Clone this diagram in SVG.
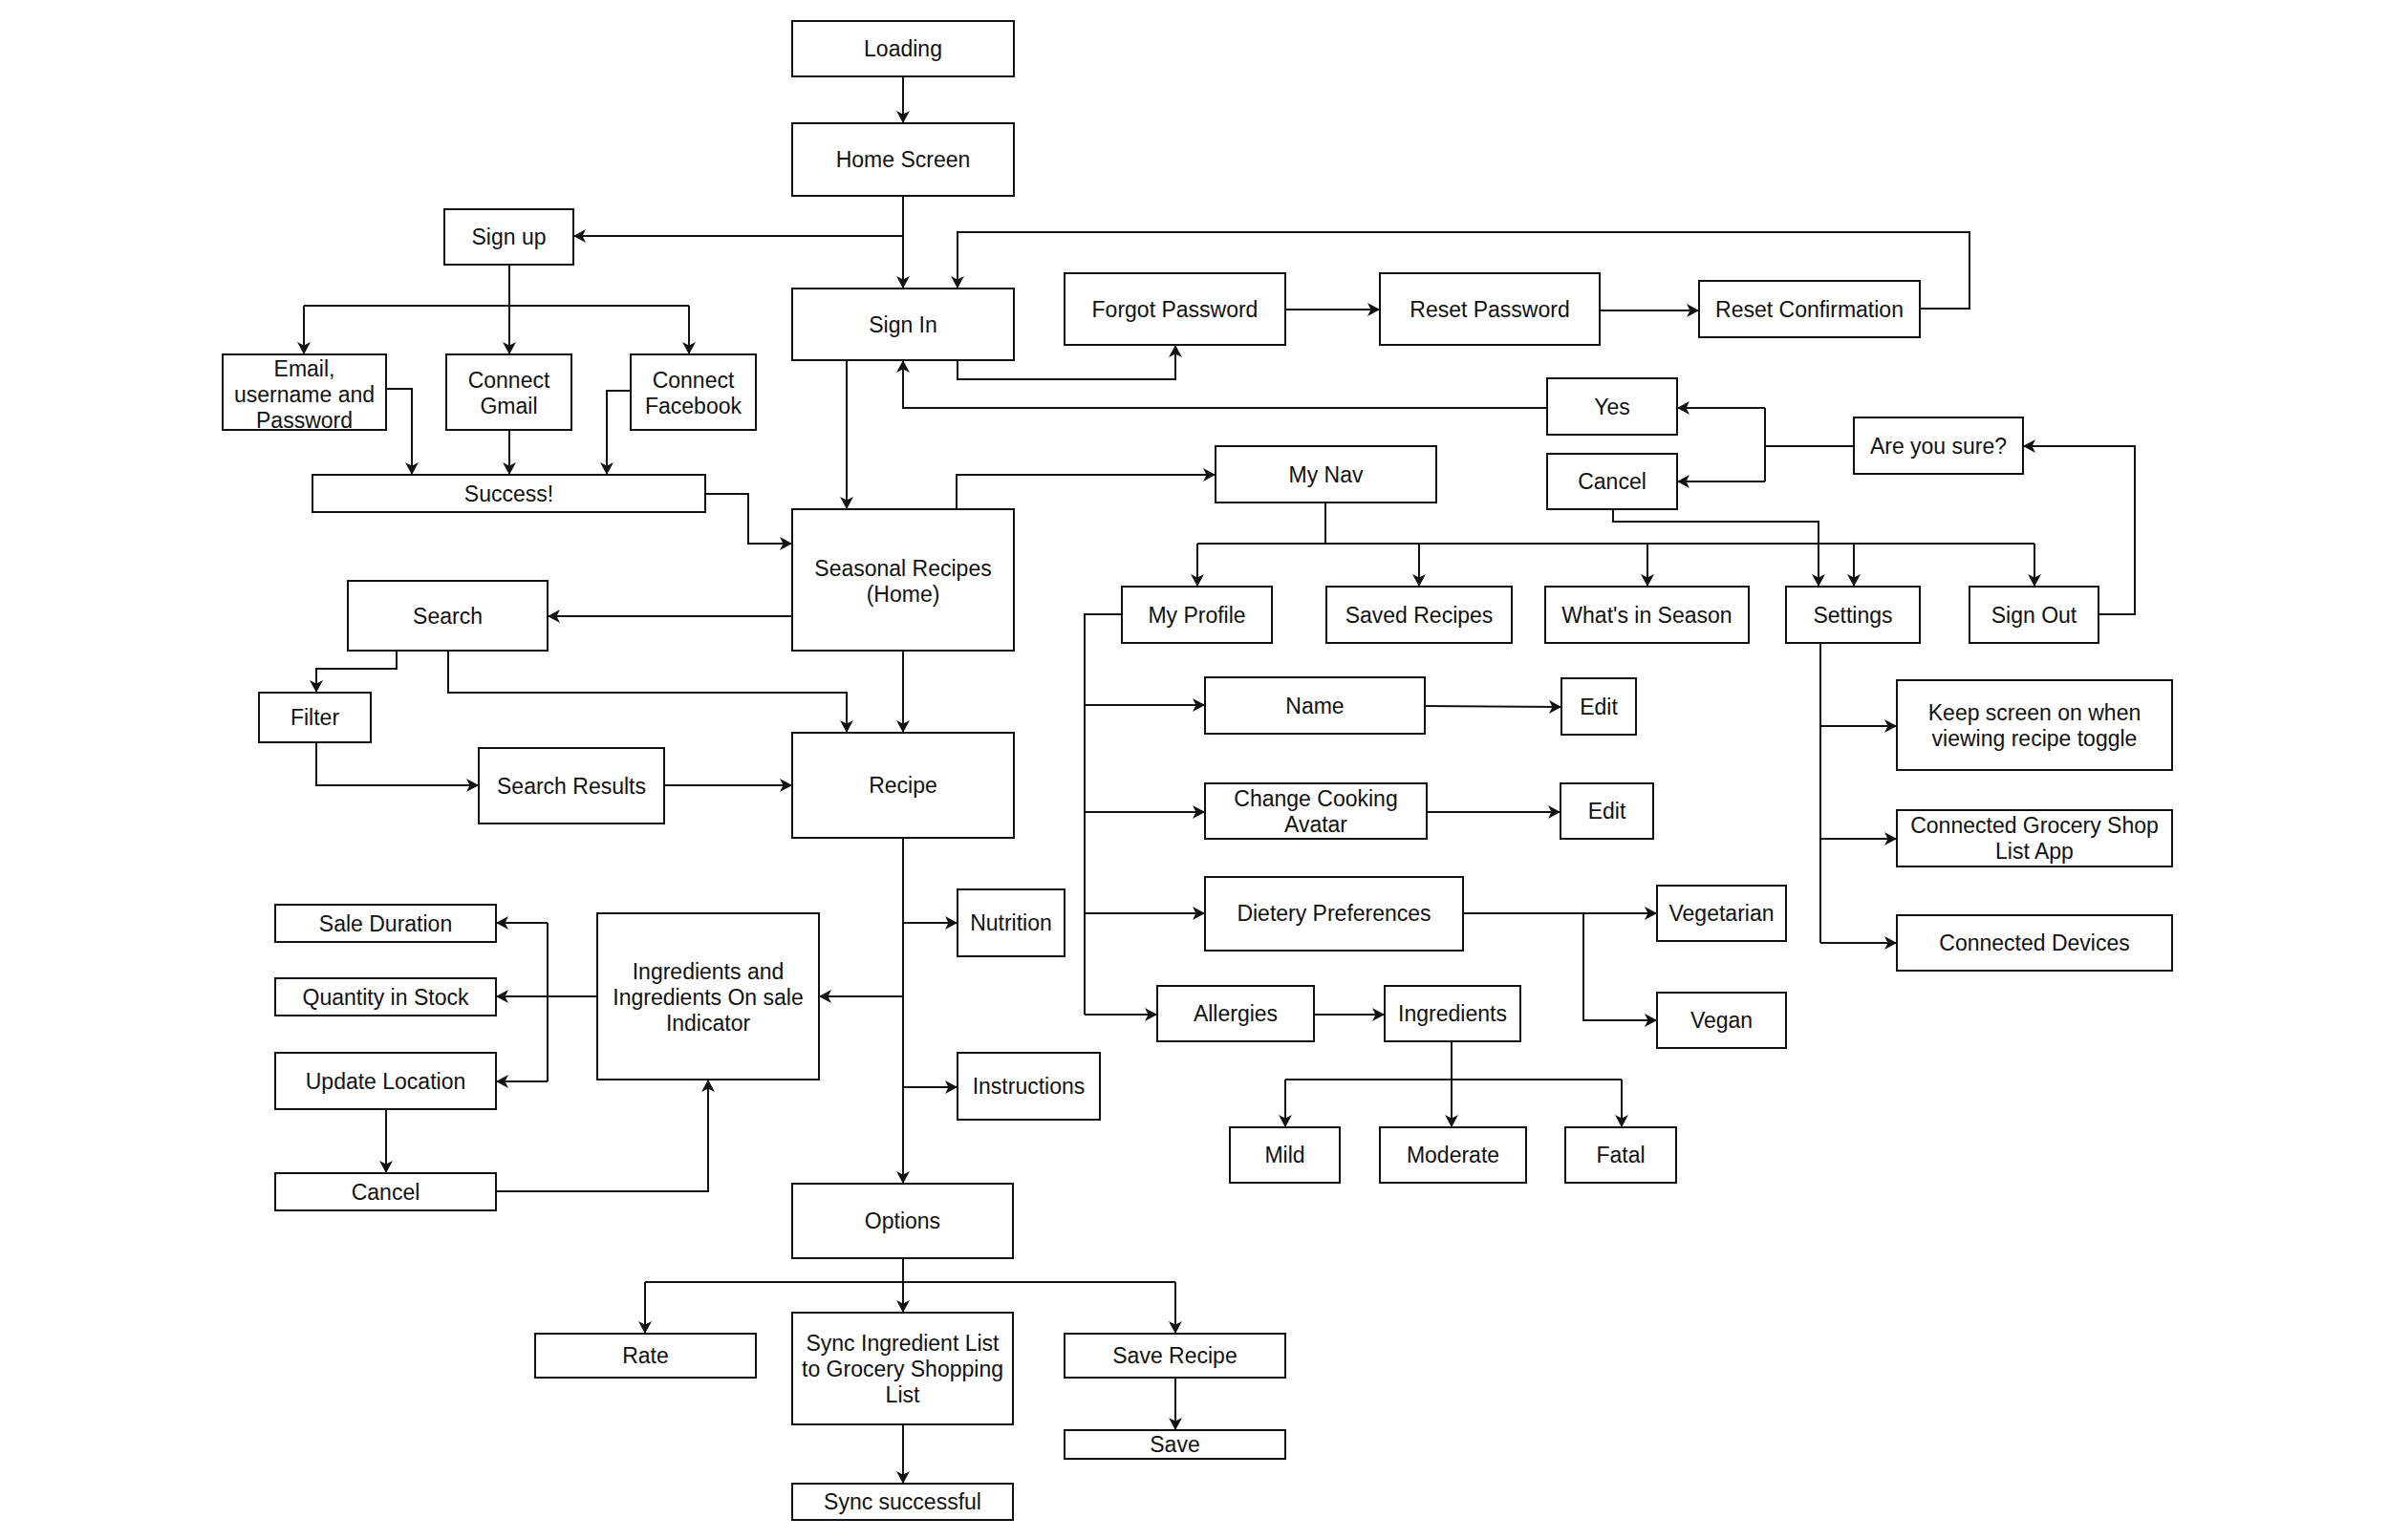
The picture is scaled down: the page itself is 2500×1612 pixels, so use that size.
<svg xmlns="http://www.w3.org/2000/svg" width="2500" height="1612" viewBox="0 0 2500 1612">
<defs>
<marker id="arr" markerUnits="userSpaceOnUse" markerWidth="14" markerHeight="14" refX="13" refY="7" orient="auto">
<path d="M0,0 L13,7 L0,14 L3.5,7 z" fill="#111"/>
</marker>
<style>
.n rect{fill:#fff;stroke:#111;stroke-width:2}
.n text{font-family:"Liberation Sans",Arial,Helvetica,sans-serif;font-size:23px;fill:#111;text-anchor:middle}
#connectors path{fill:none;stroke:#111;stroke-width:2}
#connectors path.a{marker-end:url(#arr)}
</style>
</defs>
<rect width="2500" height="1612" fill="#fff"/>
<g id="connectors">
<path class="a" d="M945,80 V129"/>
<path class="a" d="M945,205 V302"/>
<path class="a" d="M945,247 H600"/>
<path class="a" d="M533,277 V371"/>
<path d="M318,320 H721"/>
<path class="a" d="M318,320 V371"/>
<path class="a" d="M721,320 V371"/>
<path class="a" d="M404,407 H431 V497"/>
<path class="a" d="M533,450 V497"/>
<path class="a" d="M660,409 H635 V497"/>
<path class="a" d="M738,517 H783 V569 H829"/>
<path class="a" d="M886,377 V533"/>
<path class="a" d="M1002,377 V397 H1230 V361"/>
<path class="a" d="M1345,324 H1444"/>
<path class="a" d="M1674,325 H1778"/>
<path class="a" d="M2009,323 H2061 V243 H1002 V302"/>
<path class="a" d="M1619,427 H945 V377"/>
<path d="M1940,467 H1847 M1847,427 V504"/>
<path class="a" d="M1847,427 H1755"/>
<path class="a" d="M1847,504 H1755"/>
<path class="a" d="M2196,643 H2234 V467 H2117"/>
<path class="a" d="M1001,533 V497 H1272"/>
<path d="M1387,526 V569 M1253,569 H2129"/>
<path class="a" d="M1253,569 V614"/>
<path class="a" d="M1485,569 V614"/>
<path class="a" d="M1724,569 V614"/>
<path class="a" d="M1940,569 V614"/>
<path class="a" d="M2129,569 V614"/>
<path class="a" d="M1688,533 V546 H1903 V614"/>
<path class="a" d="M829,645 H573"/>
<path class="a" d="M415,681 V700 H331 V725"/>
<path class="a" d="M469,681 V725 H886 V767"/>
<path class="a" d="M945,681 V767"/>
<path class="a" d="M331,777 V822 H501"/>
<path class="a" d="M695,822 H829"/>
<path class="a" d="M945,877 V1239"/>
<path class="a" d="M945,966 H1002"/>
<path class="a" d="M945,1043 H857"/>
<path class="a" d="M945,1138 H1002"/>
<path class="a" d="M625,1043 H519"/>
<path d="M573,966 V1132"/>
<path class="a" d="M573,966 H519"/>
<path class="a" d="M573,1132 H519"/>
<path class="a" d="M404,1161 V1228"/>
<path class="a" d="M519,1247 H741 V1130"/>
<path class="a" d="M945,1317 V1374"/>
<path d="M675,1342 H1230"/>
<path class="a" d="M675,1342 V1396"/>
<path class="a" d="M1230,1342 V1396"/>
<path class="a" d="M945,1491 V1553"/>
<path class="a" d="M1230,1442 V1497"/>
<path d="M1174,643 H1135 V1062"/>
<path class="a" d="M1135,738 H1261"/>
<path class="a" d="M1135,850 H1261"/>
<path class="a" d="M1135,956 H1261"/>
<path class="a" d="M1135,1062 H1211"/>
<path class="a" d="M1491,739 L1634,740"/>
<path class="a" d="M1493,850 H1633"/>
<path class="a" d="M1531,956 H1734"/>
<path class="a" d="M1657,956 V1068 H1734"/>
<path class="a" d="M1375,1062 H1449"/>
<path class="a" d="M1519,1090 V1180"/>
<path d="M1345,1130 H1697"/>
<path class="a" d="M1345,1130 V1180"/>
<path class="a" d="M1697,1130 V1180"/>
<path d="M1905,673 V987"/>
<path class="a" d="M1905,760 H1985"/>
<path class="a" d="M1905,878 H1985"/>
<path class="a" d="M1905,987 H1985"/>
</g>
<g id="loading" class="n"><rect x="829" y="22" width="232" height="58"/><text x="945" y="59">Loading</text></g>
<g id="home" class="n"><rect x="829" y="129" width="232" height="76"/><text x="945" y="175">Home Screen</text></g>
<g id="signup" class="n"><rect x="465" y="219" width="135" height="58"/><text x="532.5" y="256">Sign up</text></g>
<g id="signin" class="n"><rect x="829" y="302" width="232" height="75"/><text x="945" y="348">Sign In</text></g>
<g id="forgot" class="n"><rect x="1114" y="286" width="231" height="75"/><text x="1229.5" y="332">Forgot Password</text></g>
<g id="reset" class="n"><rect x="1444" y="286" width="230" height="75"/><text x="1559" y="332">Reset Password</text></g>
<g id="resetconf" class="n"><rect x="1778" y="294" width="231" height="59"/><text x="1893.5" y="332">Reset Confirmation</text></g>
<g id="email" class="n"><rect x="233" y="371" width="171" height="79"/><text x="318.5" y="394"><tspan x="318.5">Email,</tspan><tspan x="318.5" dy="27">username  and</tspan><tspan x="318.5" dy="27">Password</tspan></text></g>
<g id="gmail" class="n"><rect x="467" y="371" width="131" height="79"/><text x="532.5" y="406"><tspan x="532.5">Connect</tspan><tspan x="532.5" dy="27">Gmail</tspan></text></g>
<g id="facebook" class="n"><rect x="660" y="371" width="131" height="79"/><text x="725.5" y="406"><tspan x="725.5">Connect</tspan><tspan x="725.5" dy="27">Facebook</tspan></text></g>
<g id="success" class="n"><rect x="327" y="497" width="411" height="39"/><text x="532.5" y="525">Success!</text></g>
<g id="yes" class="n"><rect x="1619" y="396" width="136" height="59"/><text x="1687" y="434">Yes</text></g>
<g id="cancel1" class="n"><rect x="1619" y="475" width="136" height="58"/><text x="1687" y="512">Cancel</text></g>
<g id="sure" class="n"><rect x="1940" y="437" width="177" height="59"/><text x="2028.5" y="475">Are you sure?</text></g>
<g id="mynav" class="n"><rect x="1272" y="467" width="231" height="59"/><text x="1387.5" y="505">My Nav</text></g>
<g id="seasonal" class="n"><rect x="829" y="533" width="232" height="148"/><text x="945" y="603"><tspan x="945">Seasonal Recipes</tspan><tspan x="945" dy="27">(Home)</tspan></text></g>
<g id="profile" class="n"><rect x="1174" y="614" width="157" height="59"/><text x="1252.5" y="652">My Profile</text></g>
<g id="saved" class="n"><rect x="1388" y="614" width="194" height="59"/><text x="1485" y="652">Saved Recipes</text></g>
<g id="season" class="n"><rect x="1617" y="614" width="213" height="59"/><text x="1723.5" y="652">What's in Season</text></g>
<g id="settings" class="n"><rect x="1869" y="614" width="140" height="59"/><text x="1939" y="652">Settings</text></g>
<g id="signout" class="n"><rect x="2061" y="614" width="135" height="59"/><text x="2128.5" y="652">Sign Out</text></g>
<g id="search" class="n"><rect x="364" y="608" width="209" height="73"/><text x="468.5" y="653">Search</text></g>
<g id="filter" class="n"><rect x="271" y="725" width="117" height="52"/><text x="329.5" y="759">Filter</text></g>
<g id="results" class="n"><rect x="501" y="783" width="194" height="79"/><text x="598" y="831">Search Results</text></g>
<g id="recipe" class="n"><rect x="829" y="767" width="232" height="110"/><text x="945" y="830">Recipe</text></g>
<g id="name" class="n"><rect x="1261" y="709" width="230" height="59"/><text x="1376" y="747">Name</text></g>
<g id="edit1" class="n"><rect x="1634" y="710" width="78" height="59"/><text x="1673" y="748">Edit</text></g>
<g id="keepscreen" class="n"><rect x="1985" y="712" width="288" height="94"/><text x="2129" y="754"><tspan x="2129">Keep screen on when</tspan><tspan x="2129" dy="27">viewing recipe toggle</tspan></text></g>
<g id="avatar" class="n"><rect x="1261" y="820" width="232" height="58"/><text x="1377" y="844"><tspan x="1377">Change Cooking</tspan><tspan x="1377" dy="27">Avatar</tspan></text></g>
<g id="edit2" class="n"><rect x="1633" y="820" width="97" height="58"/><text x="1681.5" y="857">Edit</text></g>
<g id="grocery" class="n"><rect x="1985" y="848" width="288" height="59"/><text x="2129" y="872"><tspan x="2129">Connected Grocery Shop</tspan><tspan x="2129" dy="27">List App</tspan></text></g>
<g id="dietery" class="n"><rect x="1261" y="918" width="270" height="77"/><text x="1396" y="964">Dietery Preferences</text></g>
<g id="vegetarian" class="n"><rect x="1734" y="927" width="135" height="58"/><text x="1801.5" y="964">Vegetarian</text></g>
<g id="devices" class="n"><rect x="1985" y="958" width="288" height="58"/><text x="2129" y="995">Connected Devices</text></g>
<g id="nutrition" class="n"><rect x="1002" y="931" width="112" height="70"/><text x="1058" y="974">Nutrition</text></g>
<g id="saleduration" class="n"><rect x="288" y="947" width="231" height="39"/><text x="403.5" y="975">Sale Duration</text></g>
<g id="ingredientsale" class="n"><rect x="625" y="956" width="232" height="174"/><text x="741" y="1025"><tspan x="741">Ingredients and</tspan><tspan x="741" dy="27">Ingredients On sale</tspan><tspan x="741" dy="27">Indicator</tspan></text></g>
<g id="quantity" class="n"><rect x="288" y="1024" width="231" height="39"/><text x="403.5" y="1052">Quantity in Stock</text></g>
<g id="allergies" class="n"><rect x="1211" y="1032" width="164" height="58"/><text x="1293" y="1069">Allergies</text></g>
<g id="ingredients" class="n"><rect x="1449" y="1032" width="142" height="58"/><text x="1520" y="1069">Ingredients</text></g>
<g id="vegan" class="n"><rect x="1734" y="1039" width="135" height="58"/><text x="1801.5" y="1076">Vegan</text></g>
<g id="updateloc" class="n"><rect x="288" y="1102" width="231" height="59"/><text x="403.5" y="1140">Update Location</text></g>
<g id="instructions" class="n"><rect x="1002" y="1102" width="149" height="70"/><text x="1076.5" y="1145">Instructions</text></g>
<g id="mild" class="n"><rect x="1287" y="1180" width="115" height="58"/><text x="1344.5" y="1217">Mild</text></g>
<g id="moderate" class="n"><rect x="1444" y="1180" width="153" height="58"/><text x="1520.5" y="1217">Moderate</text></g>
<g id="fatal" class="n"><rect x="1638" y="1180" width="116" height="58"/><text x="1696" y="1217">Fatal</text></g>
<g id="cancel2" class="n"><rect x="288" y="1228" width="231" height="39"/><text x="403.5" y="1256">Cancel</text></g>
<g id="options" class="n"><rect x="829" y="1239" width="231" height="78"/><text x="944.5" y="1286">Options</text></g>
<g id="rate" class="n"><rect x="560" y="1396" width="231" height="46"/><text x="675.5" y="1427">Rate</text></g>
<g id="sync" class="n"><rect x="829" y="1374" width="231" height="117"/><text x="944.5" y="1414"><tspan x="944.5">Sync Ingredient List</tspan><tspan x="944.5" dy="27">to Grocery Shopping</tspan><tspan x="944.5" dy="27">List</tspan></text></g>
<g id="saverecipe" class="n"><rect x="1114" y="1396" width="231" height="46"/><text x="1229.5" y="1427">Save Recipe</text></g>
<g id="save" class="n"><rect x="1114" y="1497" width="231" height="30"/><text x="1229.5" y="1520">Save</text></g>
<g id="syncok" class="n"><rect x="829" y="1553" width="231" height="38"/><text x="944.5" y="1580">Sync successful</text></g>
</svg>
